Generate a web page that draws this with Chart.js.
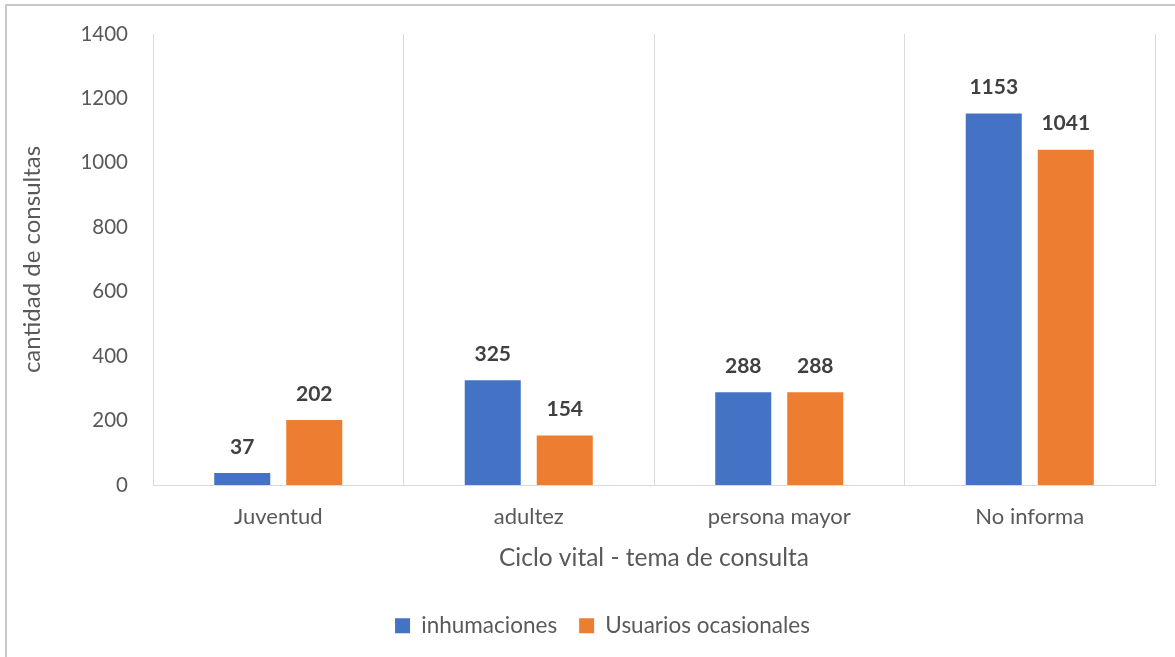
<!DOCTYPE html>
<html>
<head>
<meta charset="utf-8">
<script src="https://cdn.jsdelivr.net/npm/chart.js@4.4.1/dist/chart.umd.min.js"></script>
<style>
  body { margin: 0; background: #fff; }
  #frame { position: absolute; left: 5px; top: 4px; width: 1300px; height: 800px; border: 2px solid #c8c8c8; }
  #wrap { position: absolute; left: 0; top: 0; width: 1175px; height: 657px; }
</style>
</head>
<body>
<div id="frame"></div>
<div id="wrap"><canvas id="myChart"></canvas></div>
<script>
// data
const categories = ['Juventud', 'adultez', 'persona mayor', 'No informa'];
const inhumaciones = [37, 325, 288, 1153];
const usuariosOcasionales = [202, 154, 288, 1041];
const yTicks = [0, 200, 400, 600, 800, 1000, 1200, 1400];

const fontName = 'Lato, "Liberation Sans", sans-serif';
const textColor = '#595959';

// etiquetas encima de cada barra
const barLabels = {
    id: 'barLabels',
    beforeDraw(chart) {
        // la leyenda esta centrada sobre el marco, no sobre el canvas
        chart.legend.left = 25;
        chart.legend.right = 1175 - 20 + 25;
    },
    afterDatasetsDraw(chart) {
        let ctx = chart.ctx;
        ctx.save();
        ctx.font = 'bold 21px ' + fontName;
        ctx.fillStyle = '#404040';
        ctx.textAlign = 'center';
        ctx.textBaseline = 'middle';
        chart.data.datasets.forEach(function (ds, i) {
            let meta = chart.getDatasetMeta(i);
            meta.data.forEach(function (bar, j) {
                ctx.fillText(ds.data[j], bar.x, bar.y - 26);
            });
        });
        ctx.restore();
    }
};

let myChart = new Chart("myChart", {
    type: "bar",
    data: {
        labels: categories,
        datasets: [{
            label: 'inhumaciones',
            backgroundColor: '#4472C4',
            data: inhumaciones,
            categoryPercentage: 0.575,
            barPercentage: 0.778
        },
        {
            label: 'Usuarios ocasionales',
            backgroundColor: '#ED7D31',
            data: usuariosOcasionales,
            categoryPercentage: 0.575,
            barPercentage: 0.778
        }]
    },
    options: {
        responsive: true,
        maintainAspectRatio: false,
        animation: false,
        layout: { padding: { top: 34, right: 20, left: 0, bottom: 10 } },
        plugins: {
            legend: {
                position: 'bottom',
                labels: {
                    font: { family: fontName, size: 22.5 },
                    color: textColor,
                    boxWidth: 15,
                    boxHeight: 15,
                    padding: 22
                }
            },
            tooltip: { enabled: false }
        },
        scales: {
            x: {
                grid: { display: true, offset: true, color: '#d9d9d9', drawTicks: false },
                border: { display: true, color: '#d9d9d9' },
                ticks: { font: { family: fontName, size: 22 }, color: textColor, padding: 19 },
                title: {
                    display: true,
                    text: 'Ciclo vital - tema de consulta',
                    font: { family: fontName, size: 24.5 },
                    color: textColor,
                    padding: { top: 6, bottom: 20 }
                },
                afterFit: function (s) {
                    s.height = s.chart.height - 10 - s.chart.legend.height - 485;
                }
            },
            y: {
                min: 0,
                max: 1400,
                grid: { display: false, drawTicks: false },
                border: { display: false },
                afterBuildTicks: function (s) {
                    s.ticks = yTicks.map(v => ({ value: v }));
                },
                ticks: {
                    font: { family: fontName, size: 20.5 },
                    color: textColor,
                    padding: 25,
                    callback: function (v) { return String(v); }
                },
                title: {
                    display: true,
                    text: 'cantidad de consultas',
                    font: { family: fontName, size: 24 },
                    color: textColor,
                    padding: { top: 18, bottom: 0 }
                },
                afterFit: function (s) {
                    s.width = 153;
                    s.paddingTop = 0;
                    s.paddingBottom = 0;
                }
            }
        }
    },
    plugins: [barLabels]
});
</script>
</body>
</html>
